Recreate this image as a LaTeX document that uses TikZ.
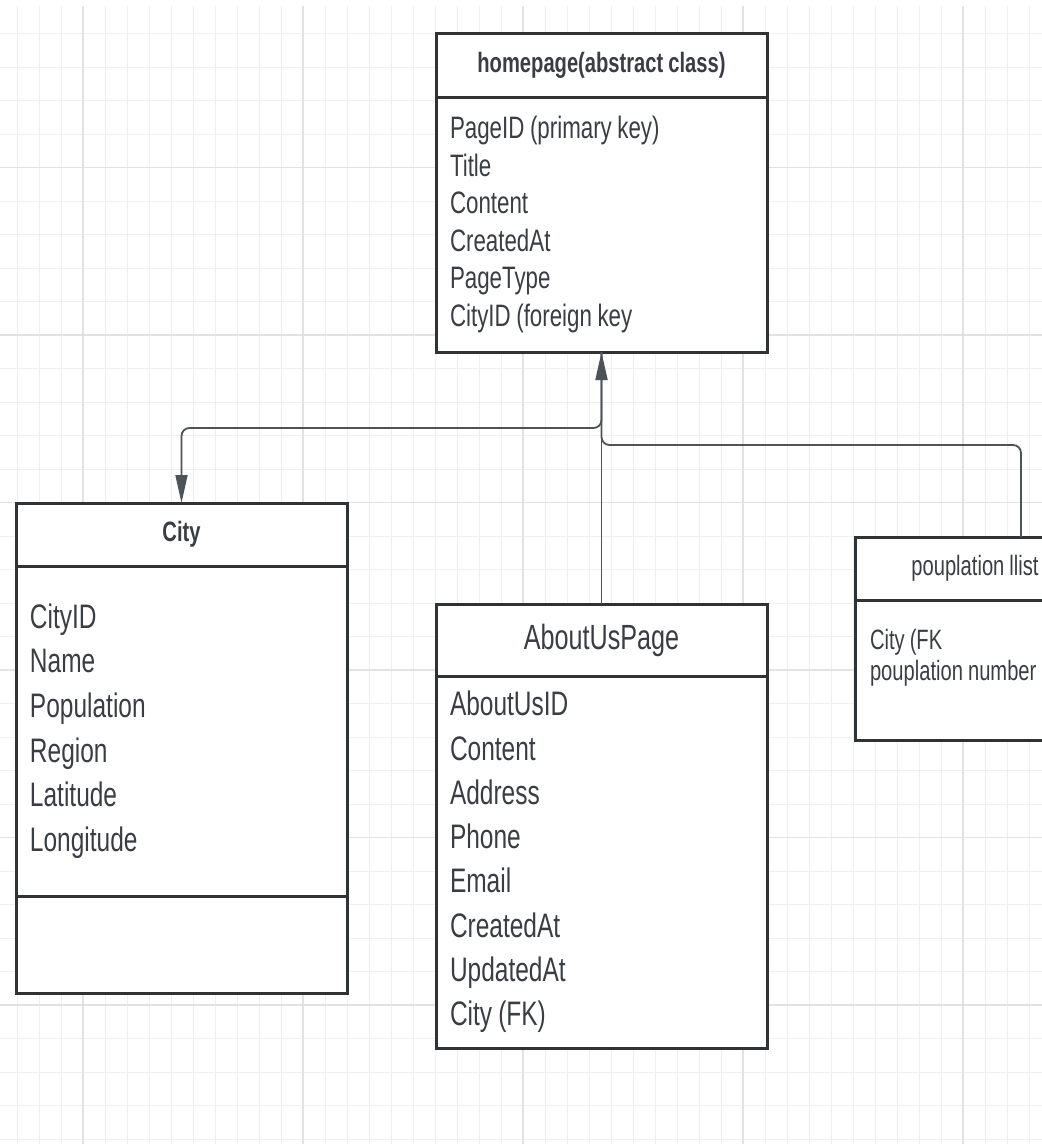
\documentclass[tikz,border=0pt]{standalone}
\usepackage{fontspec}
\usepackage{xcolor}
\usepackage{tikz}
\usetikzlibrary{positioning,arrows.meta,shapes}
\setmainfont{Liberation Sans}[FakeStretch=0.72, WordSpace=0.9]
\definecolor{gridminor}{HTML}{EFEFEF}
\definecolor{gridmajor}{HTML}{E2E2E2}
\definecolor{boxline}{HTML}{303336}
\definecolor{ink}{HTML}{3A3E44}
\definecolor{wire}{HTML}{4E535A}
\def\umlgrid{%
  \foreach \gx in {17,39,...,1042} \draw[gridminor, line width=1pt] (\gx,6) -- (\gx,1144);
  \foreach \gy in {33.5,67,...,1144} \draw[gridminor, line width=1pt] (0,\gy) -- (1042,\gy);
  \foreach \gx in {83,303,...,1042} \draw[gridmajor, line width=1.2pt] (\gx,6) -- (\gx,1144);
  \foreach \gy in {167.5,335,...,1144} \draw[gridmajor, line width=1.2pt] (0,\gy) -- (1042,\gy);
}
\tikzset{
  classhead/.style={draw=boxline, line width=3pt, fill=white, text=ink,
    outer sep=0pt, inner sep=0pt},
  classbody/.style={draw=boxline, line width=3pt, fill=white, text=ink,
    outer sep=0pt, inner xsep=14pt, inner ysep=0pt, align=flush left},
  link/.style={draw=wire, line width=1.8pt, rounded corners=8pt},
  linkhead/.style={-{Triangle[length=28pt, width=12pt]}}
}

\begin{document}
\begin{tikzpicture}[x=1pt, y=-1pt]
  \useasboundingbox (0,0) rectangle (1042,1144);
  \clip (0,0) rectangle (1042,1144);
  \fill[white] (0,0) rectangle (1042,1144);
  \umlgrid
  % homepage
  \node[classhead, minimum width=331pt, minimum height=64pt,
    font=\bfseries\fontsize{28}{34}\selectfont] (home-head) at (601.5,65) {homepage(abstract class)};
  \node[classbody, text width=303pt, minimum height=255pt, below=0pt of home-head,
    font=\fontsize{31}{37.6}\selectfont] (home-body)
    {PageID (primary key)\\Title\\Content\\CreatedAt\\PageType\\CityID (foreign key};
  % city
  \node[classhead, minimum width=331pt, minimum height=63pt,
    font=\bfseries\fontsize{28}{34}\selectfont] (city-head) at (181.5,534.5) {City};
  \node[classbody, text width=303pt, minimum height=330pt, below=0pt of city-head,
    font=\fontsize{34}{44.6}\selectfont] (city-body)
    {CityID\\Name\\Population\\Region\\Latitude\\Longitude};
  \node[classbody, text width=303pt, minimum height=97pt, below=0pt of city-body] (city-foot) {};
  % about us
  \node[classhead, minimum width=331pt, minimum height=72pt,
    font=\fontsize{35}{42}\selectfont] (about-head) at (601.5,640) {AboutUsPage};
  \node[classbody, text width=303pt, minimum height=372pt, below=0pt of about-head,
    font=\fontsize{34}{44.3}\selectfont] (about-body)
    {AboutUsID\\Content\\Address\\Phone\\Email\\CreatedAt\\UpdatedAt\\City (FK)};
  % population list
  \node[classhead, minimum width=240pt, minimum height=63pt,
    font=\fontsize{28}{34}\selectfont] (pop-head) at (975,568.5) {pouplation llist};
  \node[classbody, text width=210pt, inner xsep=15pt, minimum height=140pt, below=0pt of pop-head,
    font=\fontsize{28}{31}\selectfont] (pop-body)
    {City (FK\\pouplation number\\~};
  % links
  \coordinate (split) at (601.5,428);
  \coordinate (merge) at (601.5,445);
  \coordinate (pop-tap) at (1021,537);
  \draw[link, linkhead] (about-head.north) -- (home-body.south);
  \draw[link, linkhead] (home-body.south) -- (split) -| (city-head.north);
  \draw[link] (pop-tap) |- (merge) -- (home-body.south);
\end{tikzpicture}
\end{document}
